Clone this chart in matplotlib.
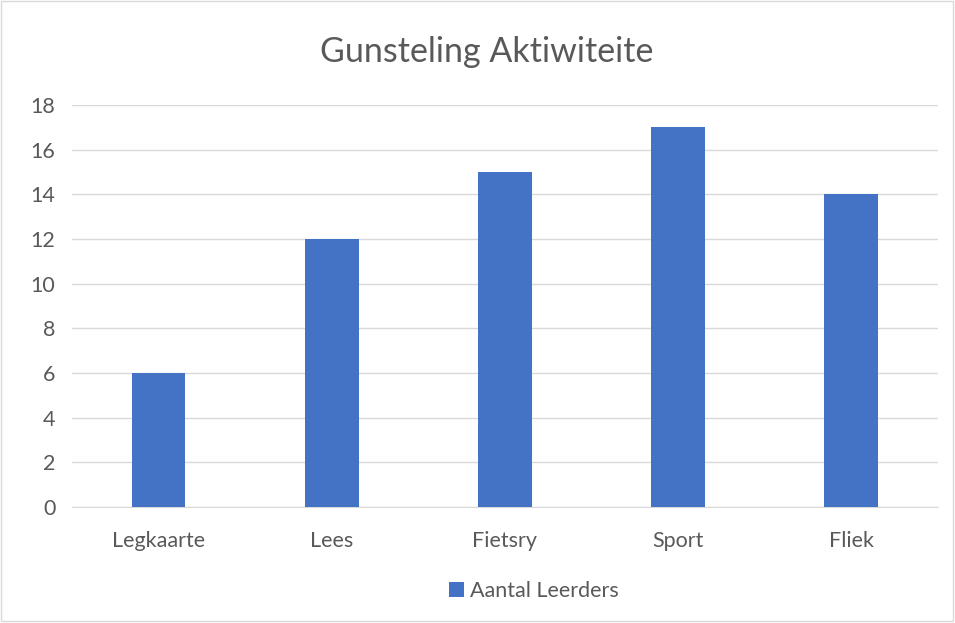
import matplotlib
matplotlib.use("Agg")
import matplotlib.pyplot as plt

categories = ["Legkaarte", "Lees", "Fietsry", "Sport", "Fliek"]
values = [6, 12, 15, 17, 14]
series_name = "Aantal Leerders"
title = "Gunsteling Aktiwiteite"

plt.rcParams["font.family"] = ["Lato", "DejaVu Sans"]

fig = plt.figure(figsize=(9.55, 6.23), dpi=100)
ax = fig.add_axes([0.0754, 0.186, 0.9066, 0.6453])

x = range(len(categories))
ax.bar(x, values, width=0.31, color="#4472C4", label=series_name, zorder=3)

ax.set_xlim(-0.5, len(categories) - 0.5)
ax.set_ylim(0, 18)
ax.set_yticks(range(0, 19, 2))
ax.set_xticks(list(x))
ax.set_xticklabels(categories)
ax.yaxis.grid(True, color="#D9D9D9", lw=1, zorder=0)
for s in ["top", "right", "left"]:
    ax.spines[s].set_visible(False)
ax.spines["bottom"].set_color("#D9D9D9")
ax.tick_params(axis="both", length=0, labelsize=15.5, colors="#595959", pad=12)
ax.tick_params(axis="x", pad=17)

fig.text(0.51, 0.917, title, ha="center", va="center", fontsize=24.5, color="#595959")

fig.legend(loc="center", bbox_to_anchor=(0.559, 0.051), frameon=False,
           fontsize=15.5, labelcolor="#595959", handlelength=0.7, handleheight=0.7,
           handletextpad=0.3)

# light outer border
fig.patches.append(plt.Rectangle((0.001, 0.004), 0.997, 0.994, transform=fig.transFigure,
                                 fill=False, edgecolor="#D9D9D9", lw=1))

fig.savefig("out.png", dpi=100)
